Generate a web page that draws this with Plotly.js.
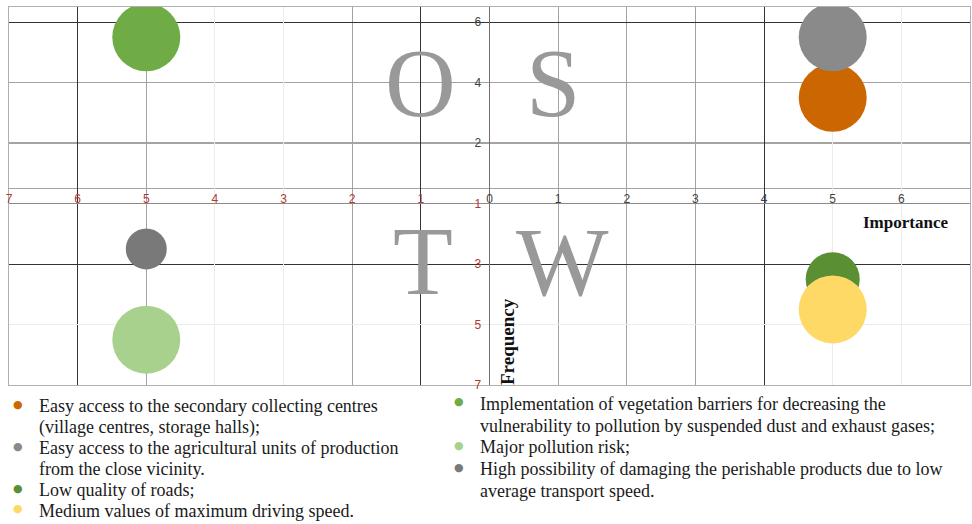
<!DOCTYPE html>
<html><head><meta charset="utf-8">
<script src="https://cdn.plot.ly/plotly-3.0.1.min.js"></script>
<style>html,body{margin:0;padding:0;background:#fff;} #chart{width:972px;height:524px;}</style>
</head><body><div id="chart"></div>
<script>
// ---------------- data ----------------
const labels = [
  ["Easy access to the secondary collecting centres", "(village centres, storage halls);"],
  ["Easy access to the agricultural units of production", "from the close vicinity."],
  ["Low quality of roads;"],
  ["Medium values of maximum driving speed."],
  ["Implementation of vegetation barriers for decreasing the", "vulnerability to pollution by suspended dust and exhaust gases;"],
  ["Major pollution risk;"],
  ["High possibility of damaging the perishable products due to low", "average transport speed."]
];
const importance = [5, 5, 5, 5, -5, -5, -5];
const frequency  = [3.5, 5.5, -2.5, -3.5, 5.5, -4.5, -1.5];
const bubbleSize = [68, 68, 54, 68, 68, 68, 41];
const colors = ['#CC6600', '#8A8A8A', '#5B8F33', '#FFD966', '#6FAC46', '#A9D18E', '#797979'];
const legendColumn = [0, 0, 0, 0, 1, 1, 1];

const xTickVals   = [-7, -6, -5, -4, -3, -2, -1, 0, 1, 2, 3, 4, 5, 6, 7];
const xTickLabels = ['7', '6', '5', '4', '3', '2', '1', '0', '1', '2', '3', '4', '5', '6', '7'];
const yTickVals   = [6, 4, 2, 0, -2, -4, -6];
const yTickLabels = ['6', '4', '2', '1', '3', '5', '7'];

const quadrantLetters = ['O', 'S', 'T', 'W'];

// ---------------- layout constants ----------------
const RED = '#B0392E', DARK = '#3f3f3f';
const ML = 9, MR = 2, MT = 7, MB = 139, W = 972, H = 524;
const PW = W - ML - MR, PH = H - MT - MB;
const px2x = X => (X - ML) / PW;
const px2y = Y => (H - MB - Y) / PH;

const letterPos = [[-1.0, 4.0], [0.93, 4.0], [-0.97, -1.9], [1.07, -1.93]];

const gridGray  = {x: [-5, -2, 1, 2, 3], y: [4, 2, 0.5]};
const gridDark  = {x: [-6, -1, 4], y: [6, -2]};
const gridFaint = {x: [-4, -3, 5, 6], y: [-4]};

const xText = xTickVals.map((v, i) => v < 0 ? `<span style="color:${RED}">${xTickLabels[i]}</span>` : xTickLabels[i]);
const yText = yTickVals.map((v, i) => v <= 0 ? `<span style="color:${RED}">${yTickLabels[i]}</span>` : yTickLabels[i]);

// helper (empty) traces so that the overlay axes carrying grids / labels get drawn
const axisHolder = (xa, ya) => ({type: 'scatter', mode: 'markers', x: [null], y: [null], xaxis: xa, yaxis: ya,
  hoverinfo: 'skip', showlegend: false});

const trace = {
  type: 'scatter', mode: 'markers',
  x: importance, y: frequency,
  marker: {size: bubbleSize, color: colors, opacity: 1, line: {width: 0}},
  cliponaxis: true, hoverinfo: 'skip', showlegend: false
};

const baseAx = {fixedrange: true, showticklabels: false, ticks: '', zeroline: false, showline: false, autorange: false};
const layout = {
  width: W, height: H,
  margin: {l: ML, r: MR, t: MT, b: MB, pad: 0},
  paper_bgcolor: '#fff', plot_bgcolor: '#fff',
  showlegend: false,
  xaxis: Object.assign({}, baseAx, {range: [-7, 7], tickmode: 'array', tickvals: gridGray.x,
    showgrid: true, gridcolor: '#a3a3a3', gridwidth: 1.2,
    zeroline: true, zerolinecolor: '#6f6f6f', zerolinewidth: 1.3,
    showline: true, mirror: true, linecolor: '#b0b0b0', linewidth: 1.3}),
  yaxis: Object.assign({}, baseAx, {range: [-6, 6.5], tickmode: 'array', tickvals: gridGray.y,
    showgrid: true, gridcolor: '#a3a3a3', gridwidth: 1.2,
    zeroline: true, zerolinecolor: '#8a8a8a', zerolinewidth: 1.5,
    showline: true, mirror: true, linecolor: '#b0b0b0', linewidth: 1.3}),
  xaxis2: Object.assign({}, baseAx, {overlaying: 'x', anchor: 'y2', range: [-7, 7], tickmode: 'array',
    tickvals: gridDark.x, showgrid: true, gridcolor: '#333', gridwidth: 1}),
  yaxis2: Object.assign({}, baseAx, {overlaying: 'y', anchor: 'x2', range: [-6, 6.5], tickmode: 'array',
    tickvals: gridDark.y, showgrid: true, gridcolor: '#333', gridwidth: 1}),
  xaxis3: Object.assign({}, baseAx, {overlaying: 'x', anchor: 'y3', range: [-7, 7], tickmode: 'array',
    tickvals: gridFaint.x, showgrid: true, gridcolor: '#ececec', gridwidth: 1}),
  yaxis3: Object.assign({}, baseAx, {overlaying: 'y', anchor: 'x3', range: [-6, 6.5], tickmode: 'array',
    tickvals: gridFaint.y, showgrid: true, gridcolor: '#ececec', gridwidth: 1}),
  xaxis4: Object.assign({}, baseAx, {overlaying: 'x', anchor: 'free', position: 0.516, side: 'bottom',
    range: [-7, 7], tickmode: 'array', tickvals: xTickVals, ticktext: xText,
    showticklabels: true, showgrid: false,
    tickfont: {family: 'Liberation Sans, Arial, sans-serif', size: 12, color: DARK}}),
  yaxis4: Object.assign({}, baseAx, {overlaying: 'y', anchor: 'free', position: px2x(489.5), side: 'left',
    range: [-6, 6.5], tickmode: 'array', tickvals: yTickVals, ticktext: yText,
    showticklabels: true, showgrid: false, ticks: 'outside', ticklen: 6, tickcolor: 'rgba(0,0,0,0)',
    tickfont: {family: 'Liberation Sans, Arial, sans-serif', size: 12, color: DARK}}),
  annotations: []
};

// quadrant letters (box height trimmed to the capital glyphs)
quadrantLetters.forEach((t, i) => {
  layout.annotations.push({
    text: t, x: letterPos[i][0], y: letterPos[i][1], xref: 'x', yref: 'y',
    xanchor: 'center', yanchor: 'middle', showarrow: false, height: 78, valign: 'middle',
    font: {family: 'Liberation Serif, Times New Roman, serif', size: 98, color: '#999999'}
  });
});

// axis titles
layout.annotations.push({
  text: '<b>Importance</b>', x: px2x(905), y: px2y(222), xref: 'paper', yref: 'paper',
  xanchor: 'center', yanchor: 'middle', showarrow: false,
  font: {family: 'Liberation Serif, Times New Roman, serif', size: 17, color: '#111'}
});
layout.annotations.push({
  text: '<b>Frequency</b>', x: px2x(507), y: px2y(341), xref: 'paper', yref: 'paper',
  xanchor: 'center', yanchor: 'middle', showarrow: false, textangle: -90,
  font: {family: 'Liberation Serif, Times New Roman, serif', size: 19, color: '#111'}
});

// legend (two columns of bullet items)
const colSpec = [
  {bulletX: 18, textX: 37, y0: 406, step: 21},
  {bulletX: 459, textX: 478, y0: 404, step: 21.7}
];
const lineCount = [0, 0];
labels.forEach((lines, i) => {
  const c = legendColumn[i], spec = colSpec[c];
  lines.forEach((ln, j) => {
    const Y = spec.y0 + lineCount[c] * spec.step;
    if (j === 0) {
      layout.annotations.push({
        text: '●', x: px2x(spec.bulletX), y: px2y(Y - 2), xref: 'paper', yref: 'paper',
        xanchor: 'center', yanchor: 'middle', showarrow: false,
        font: {family: 'DejaVu Sans, sans-serif', size: 11, color: colors[i]}
      });
    }
    layout.annotations.push({
      text: ln, x: px2x(spec.textX), y: px2y(Y), xref: 'paper', yref: 'paper',
      xanchor: 'left', yanchor: 'middle', showarrow: false,
      font: {family: 'Liberation Serif, Times New Roman, serif', size: 18, color: '#1a1a1a'}
    });
    lineCount[c]++;
  });
});

const data = [axisHolder('x2', 'y2'), axisHolder('x3', 'y3'), axisHolder('x4', 'y4'), trace];
Plotly.newPlot('chart', data, layout, {staticPlot: true, displayModeBar: false});
</script></body></html>
